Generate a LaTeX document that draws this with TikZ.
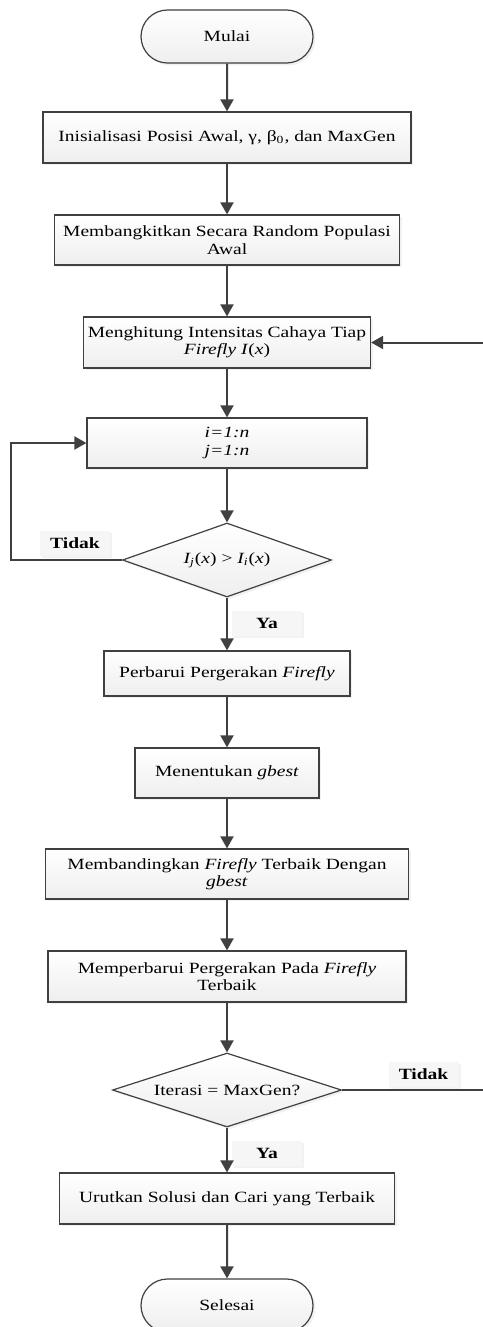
\documentclass[tikz,border=0pt]{standalone}
\usepackage{fontspec}
\setmainfont[FakeStretch=1.25]{Liberation Serif}
\usetikzlibrary{shapes.geometric,shapes.misc,arrows.meta,shadows}

\definecolor{abu}{RGB}{64,64,64}
\tikzset{
	proses/.style={draw=abu, line width=0.6pt, top color=white, bottom color=gray!13,
		drop shadow={shadow xshift=1.2pt, shadow yshift=-1.2pt, fill=gray!22},
		align=center, inner sep=0pt, font=\fontsize{7.8}{8.7}\selectfont},
	terminal/.style={proses, rounded rectangle, minimum width=86pt, minimum height=26.5pt},
	keputusan/.style={proses, diamond, aspect=2.9},
	ket/.style={fill=gray!7, drop shadow={shadow xshift=1.2pt, shadow yshift=-1.2pt, fill=gray!20},
		minimum width=35pt, minimum height=12.5pt, inner sep=0pt, font=\fontsize{7.8}{8.7}\selectfont\bfseries},
	alur/.style={draw=abu, line width=1pt, -{Triangle[width=6.5pt,length=6pt]}},
}

\begin{document}
\begin{tikzpicture}[x=0.5pt, y=-0.5pt]
	\useasboundingbox (0,0) rectangle (482,1327);
	% langkah-langkah
	\node[terminal] (mulai) at (227,36.5) {Mulai};
	\node[proses, minimum width=184pt, minimum height=25.5pt] (init) at (227,137.5) {Inisialisasi Posisi Awal, γ, β\textsubscript{0}, dan MaxGen};
	\node[proses, minimum width=172.5pt, minimum height=25pt] (bangkit) at (227,240) {Membangkitkan Secara Random Populasi\\Awal};
	\node[proses, minimum width=143.5pt, minimum height=25.5pt] (hitung) at (227,342.5) {Menghitung Intensitas Cahaya Tiap\\\textit{Firefly I}(\textit{x})};
	\node[proses, minimum width=140pt, minimum height=25pt] (loopij) at (227,443) {\textit{i=1:n}\\\textit{j=1:n}};
	\node[keputusan, minimum width=104.5pt, minimum height=37pt] (cek) at (227,560) {\textit{I\textsubscript{j}}(\textit{x}) > \textit{I\textsubscript{i}}(\textit{x})};
	\node[proses, minimum width=123pt, minimum height=22.5pt] (gerak) at (227,673.5) {Perbarui Pergerakan \textit{Firefly}};
	\node[proses, minimum width=92pt, minimum height=25pt] (gbest) at (227,773) {Menentukan \textit{gbest}};
	\node[proses, minimum width=181.5pt, minimum height=25pt] (banding) at (227,874) {Membandingkan \textit{Firefly} Terbaik Dengan\\\textit{gbest}};
	\node[proses, minimum width=179pt, minimum height=25.5pt] (perbarui) at (227,976.5) {Memperbarui Pergerakan Pada \textit{Firefly}\\Terbaik};
	\node[keputusan, aspect=3.1, minimum width=114.5pt, minimum height=37pt] (iter) at (227,1090) {Iterasi = MaxGen?};
	\node[proses, minimum width=167.5pt, minimum height=25.5pt] (urut) at (227,1198.5) {Urutkan Solusi dan Cari yang Terbaik};
	\node[terminal] (selesai) at (227,1305.5) {Selesai};
	% keterangan
	\node[ket] (tidak1) at (75,543.5) {Tidak};
	\node[ket] (ya1) at (267,623.5) {Ya};
	\node[ket] (tidak2) at (423.5,1074.5) {Tidak};
	\node[ket] (ya2) at (267,1153.5) {Ya};
	% alur
	\draw[alur] (mulai) -- (init);
	\draw[alur] (init) -- (bangkit);
	\draw[alur] (bangkit) -- (hitung);
	\draw[alur] (hitung) -- (loopij);
	\draw[alur] (loopij) -- (cek);
	\draw[alur] (cek) -- (gerak);
	\draw[alur] (gerak) -- (gbest);
	\draw[alur] (gbest) -- (banding);
	\draw[alur] (banding) -- (perbarui);
	\draw[alur] (perbarui) -- (iter);
	\draw[alur] (iter) -- (urut);
	\draw[alur] (urut) -- (selesai);
	\coordinate (kiri) at (11,560);
	\draw[alur] (cek.west) -- (kiri) |- (loopij.west);
	\coordinate (kanan) at (485,1090);
	\draw[alur] (iter.east) -- (kanan) |- (hitung.east);
\end{tikzpicture}
\end{document}
